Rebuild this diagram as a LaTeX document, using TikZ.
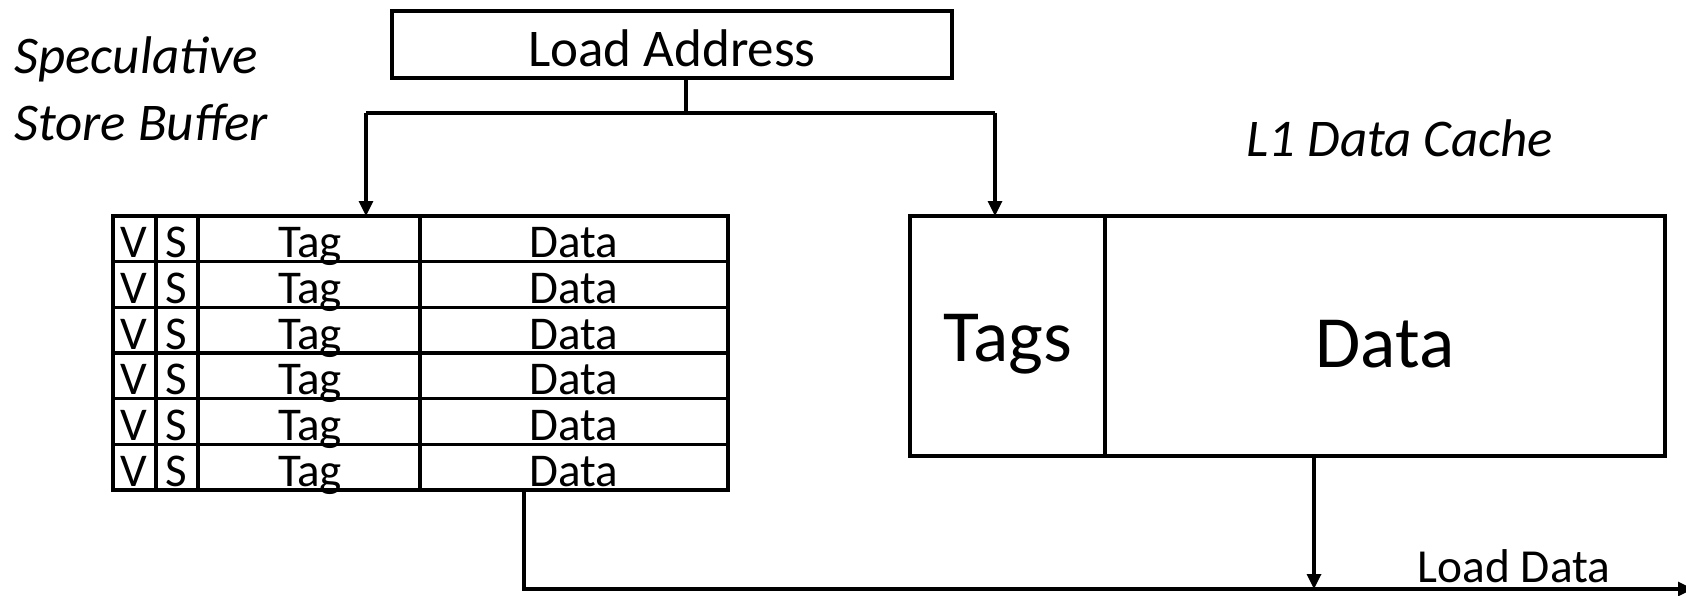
\documentclass[tikz,border=0pt]{standalone}
\usepackage{fontspec}
\setmainfont{Carlito}
\usetikzlibrary{arrows.meta}
\tikzset{
  box/.style={draw, line width=1.6pt, inner sep=0pt, outer sep=0pt},
  wire/.style={line width=1.6pt},
  arr/.style={wire, -{Triangle[length=7.5pt,width=7pt]}},
  celltxt/.style={font=\fontsize{23.5}{23.5}\selectfont, anchor=base, inner sep=0pt},
  bigtxt/.style={font=\fontsize{36.8}{36.8}\selectfont, inner sep=0pt},
  lbl/.style={font=\fontsize{26.5}{32}\selectfont\itshape, inner sep=0pt},
}
\begin{document}
\begin{tikzpicture}[x=0.5pt,y=-0.5pt]
\useasboundingbox (0,0) rectangle (1686,595);
% Load address
\node[box, minimum width=280pt, minimum height=33.5pt, anchor=north west] (la) at (392,11) {};
\node[font=\fontsize{26.5}{26.5}\selectfont, inner sep=0pt] (latxt) at (672,48) {Load Address};
\coordinate (split) at (686,113);
\coordinate (lsplit) at (366,113);
\coordinate (rsplit) at (995,113);
% store buffer
\node[box, minimum width=307.5pt, minimum height=137pt, anchor=north west] (sb) at (113,216) {};
\foreach \x in {156,198,420} \draw[wire] (\x,216) -- (\x,490);
\foreach \i in {1,...,5} \draw[wire] (113,216+\i*45.67) -- (728,216+\i*45.67);
\foreach \i in {1,...,6} {
  \pgfmathsetmacro{\yb}{216+\i*45.67-4}
  \node[celltxt] (v\i) at (134,\yb) {V};
  \node[celltxt] (s\i) at (176,\yb) {S};
  \node[celltxt] (t\i) at (310,\yb) {Tag};
  \node[celltxt] (d\i) at (574,\yb) {Data};
}
% cache
\node[box, minimum width=377.5pt, minimum height=120pt, anchor=north west] (cache) at (910,216) {};
\draw[wire] (1105,216) -- (1105,456);
\node[bigtxt] (tags) at (1008,344) {Tags};
\node[bigtxt] (cdata) at (1385,344) {Data};
% labels
\node[lbl, anchor=west] (spec) at (14,59) {Speculative};
\node[lbl, anchor=west] (stb) at (14,122) {Store Buffer};
\node[lbl] (l1) at (1400,138) {L1 Data Cache};
\node[font=\fontsize{23.7}{23.7}\selectfont, inner sep=0pt] (ld) at (1514,566) {Load Data};
% connectors
\draw[wire] (la.south -| split) -- (split);
\draw[wire] (lsplit) -- (rsplit);
\draw[arr] (lsplit) -- (lsplit |- sb.north);
\draw[arr] (rsplit) -- (rsplit |- cache.north);
\coordinate (out) at (1693,589);
\coordinate (sbout) at (524,490);
\draw[arr] (sbout) -- (524,589) -- (out);
\draw[arr] (1314,456) -- (1314,589);
\end{tikzpicture}
\end{document}
